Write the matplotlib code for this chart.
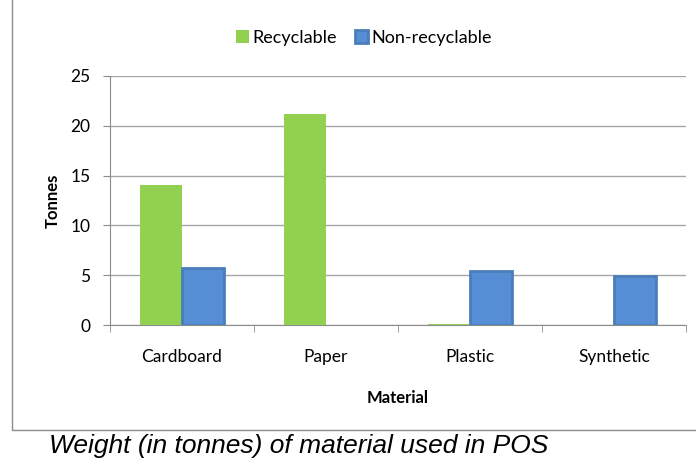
import matplotlib.pyplot as plt
import numpy as np
from matplotlib.patches import Rectangle

materials = ['Cardboard', 'Paper', 'Plastic', 'Synthetic']
recyclable = [14.1, 21.2, 0.1, 0.0]
non_recyclable = [5.7, 0.0, 5.4, 4.9]
yticks = [0, 5, 10, 15, 20, 25]

plt.rcParams['font.family'] = ['Lato', 'DejaVu Sans']

fig = plt.figure(figsize=(6.96, 4.59), dpi=100)

# chart border
fig.patches.append(Rectangle((12 / 696, 29 / 459), 1.0, 1.0, transform=fig.transFigure,
                             fill=False, edgecolor='#8c8c8c', linewidth=1.0))

ax = fig.add_axes([110 / 696, 134 / 459, 576 / 696, 249 / 459])
x = np.arange(len(materials))
w = 0.29
ax.bar(x - w / 2, recyclable, w, color='#92D050', label='Recyclable', zorder=3)
# zero-height bars get no outline
edge_w = [2 if v > 0 else 0 for v in non_recyclable]
ax.bar(x + w / 2, non_recyclable, w, color='#558ED5', edgecolor='#4A7EBB',
       linewidth=edge_w, label='Non-recyclable', zorder=3)

ax.set_xlim(-0.5, 3.5)
ax.set_ylim(0, 25)
ax.set_yticks(yticks)
ax.yaxis.grid(True, color='#a6a6a6', linewidth=1, zorder=0)
ax.set_xticks(x)
ax.set_xticklabels(materials)
ax.set_xticks(np.arange(-0.5, 4, 1), minor=True)
ax.tick_params(axis='x', which='major', length=0, pad=17, labelsize=12.5)
ax.tick_params(axis='x', which='minor', length=5, color='#8c8c8c')
ax.tick_params(axis='y', length=5, color='#8c8c8c', labelsize=12.5, pad=9)
for s in ['top', 'right']:
    ax.spines[s].set_visible(False)
for s in ['left', 'bottom']:
    ax.spines[s].set_color('#8c8c8c')

ax.set_xlabel('Material', fontweight='bold', fontsize=12, labelpad=18)
ax.set_ylabel('Tonnes', fontweight='bold', fontsize=12, labelpad=7)

ax.legend(loc='lower center', bbox_to_anchor=(0.441, 1.055), ncol=2, frameon=False,
          fontsize=13, handlelength=0.7, handleheight=0.7, columnspacing=1.0,
          handletextpad=0.2)

fig.text(49 / 696, 6 / 459, 'Weight (in tonnes) of material used in POS',
         fontfamily='Liberation Sans', fontstyle='italic', fontsize=19, va='baseline')

fig.savefig('out.png', dpi=100)
